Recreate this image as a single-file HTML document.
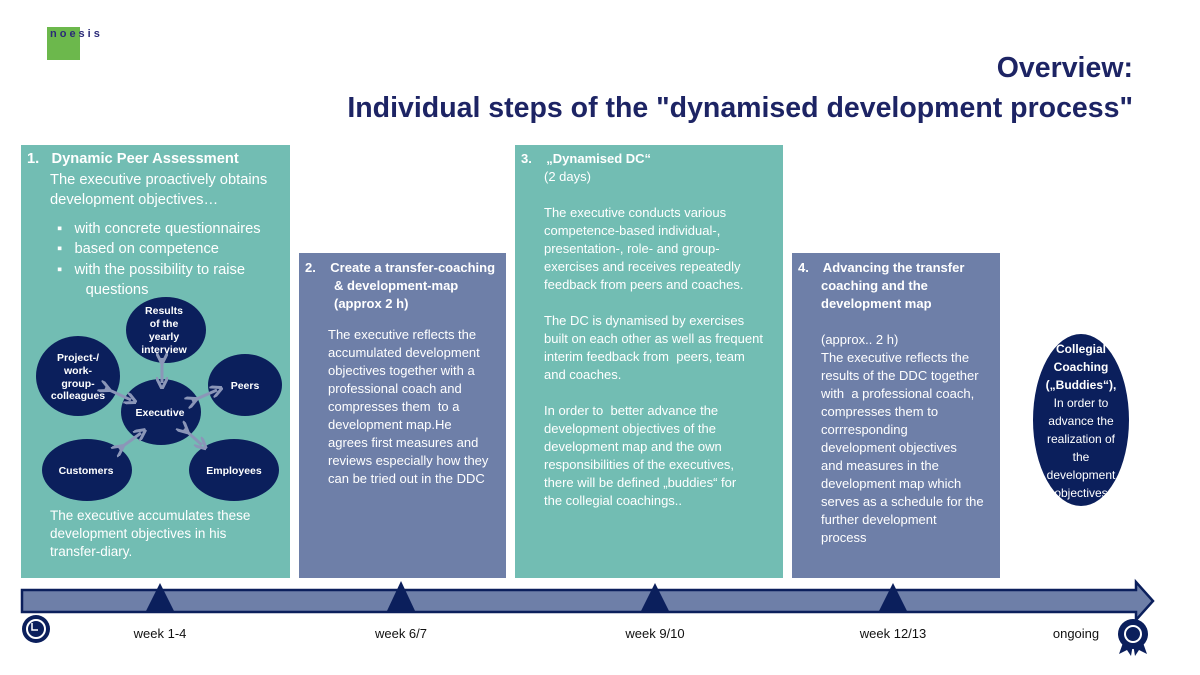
<!DOCTYPE html>
<html><head><meta charset="utf-8"><style>
*{margin:0;padding:0;box-sizing:border-box}
body{width:1200px;height:675px;background:#fff;position:relative;overflow:hidden;font-family:"Liberation Sans",sans-serif}
.a{position:absolute}
.box{position:absolute;color:#fff;font-size:13px;line-height:18px;white-space:nowrap}
.t{position:absolute;white-space:nowrap}
.b{font-weight:bold}
</style></head><body>
<div class="a" style="left:47px;top:27px;width:33px;height:33px;background:#6cb84c"></div>
<div class="t b" style="left:50px;top:28px;font-size:11px;letter-spacing:3px;color:#2a2a78">noesis</div>
<div class="t b" style="right:67px;top:48px;font-size:28.5px;color:#1d2464;text-align:right;line-height:40px">Overview:<br>Individual steps of the "dynamised development process"</div>

<div class="box" style="left:21px;top:145px;width:269px;height:433px;background:#72bdb3"></div>
<div class="box" style="left:299px;top:253px;width:207px;height:325px;background:#6e7fa8"></div>
<div class="box" style="left:515px;top:145px;width:268px;height:433px;background:#72bdb3"></div>
<div class="box" style="left:792px;top:253px;width:208px;height:325px;background:#6e7fa8"></div>

<div class="box" style="left:27px;top:149px;font-size:14.7px;line-height:20.5px">
<div class="b">1.&nbsp;&nbsp; Dynamic Peer Assessment</div>
<div style="padding-left:23px">The executive proactively obtains<br>development objectives…</div>
<div style="margin-top:8px;padding-left:30px">▪&nbsp;&nbsp; with concrete questionnaires<br>▪&nbsp;&nbsp; based on competence<br>▪&nbsp;&nbsp; with the possibility to raise<br>&nbsp;&nbsp;&nbsp;&nbsp;&nbsp;&nbsp; questions</div>
</div>
<div class="box" style="left:50px;top:507px;font-size:13.5px;line-height:18px">The executive accumulates these<br>development objectives in his<br>transfer-diary.</div>

<svg class="a" style="left:0;top:0" width="1200" height="675">
<defs><marker id="m" markerWidth="4" markerHeight="4" refX="2" refY="2" orient="auto"><path d="M0,0 L4,2 L0,4" fill="none" stroke="#8b96b8" stroke-width="1"/></marker></defs>
<g fill="#0b1f5c">
<ellipse cx="161" cy="412" rx="40" ry="33"/>
<ellipse cx="166" cy="330" rx="40" ry="33"/>
<ellipse cx="78" cy="376" rx="42" ry="40"/>
<ellipse cx="245" cy="385" rx="37" ry="31"/>
<ellipse cx="87" cy="470" rx="45" ry="31"/>
<ellipse cx="234" cy="470" rx="45" ry="31"/>
<ellipse cx="1081" cy="420" rx="48" ry="86"/>
</g>
<g stroke="#8b96b8" stroke-width="3" marker-start="url(#m)" marker-end="url(#m)">
<line x1="162" y1="358" x2="162" y2="383"/>
<line x1="105" y1="388" x2="131" y2="400"/>
<line x1="192" y1="401" x2="217" y2="390"/>
<line x1="119" y1="449" x2="141" y2="433"/>
<line x1="184" y1="429" x2="202" y2="445"/>
</g>
<g fill="#fff" font-family="Liberation Sans" font-weight="bold" font-size="10.5" text-anchor="middle">
<text x="160" y="416">Executive</text>
<text x="164" y="314">Results</text><text x="164" y="327">of the</text><text x="164" y="340">yearly</text><text x="164" y="353">interview</text>
<text x="78" y="361">Project-/</text><text x="78" y="374">work-</text><text x="78" y="387">group-</text><text x="78" y="399">colleagues</text>
<text x="245" y="389">Peers</text>
<text x="86" y="474">Customers</text>
<text x="234" y="474">Employees</text>
</g>
<g fill="#fff" font-family="Liberation Sans" font-weight="bold" font-size="12" text-anchor="middle">
<text x="1081" y="353">Collegial</text><text x="1081" y="371">Coaching</text><text x="1081" y="389">(„Buddies“),</text>
<text x="1081" y="407" font-weight="normal">In order to</text><text x="1081" y="425" font-weight="normal">advance the</text>
<text x="1081" y="443" font-weight="normal">realization of</text><text x="1081" y="461" font-weight="normal">the</text>
<text x="1081" y="479" font-weight="normal">development</text><text x="1081" y="497" font-weight="normal">objectives</text>
</g>
<path d="M22,590 L1136,590 L1136,582 L1153,601 L1136,620 L1136,612 L22,612 Z" fill="#6e7fa8" stroke="#0b1f5c" stroke-width="2.5"/>
<g fill="#0b1f5c">
<path d="M160,583 L175,613 L145,613 Z"/>
<path d="M401,581 L416,613 L386,613 Z"/>
<path d="M655,583 L670,613 L640,613 Z"/>
<path d="M893,583 L908,613 L878,613 Z"/>
<circle cx="36" cy="629" r="14"/>
<circle cx="1133" cy="634" r="15"/>
<path d="M1124,640 L1119,654 L1127,650 L1131,656 L1133,644 Z M1142,640 L1147,654 L1139,650 L1135,656 L1133,644 Z"/>
</g>
<circle cx="36" cy="629" r="9" fill="none" stroke="#fff" stroke-width="2"/>
<path d="M32,623 L32,630 L38,630" fill="none" stroke="#fff" stroke-width="1.5"/>
<circle cx="1133" cy="634" r="8" fill="none" stroke="#fff" stroke-width="2"/>
<g font-family="Liberation Sans" font-size="13" fill="#111" text-anchor="middle">
<text x="160" y="638">week 1-4</text><text x="401" y="638">week 6/7</text>
<text x="655" y="638">week 9/10</text><text x="893" y="638">week 12/13</text><text x="1076" y="638">ongoing</text>
</g>
</svg>

<div class="box" style="left:305px;top:259px">
<div class="b">2.&nbsp;&nbsp;&nbsp; Create a transfer-coaching</div>
<div class="b" style="padding-left:29px">&amp; development-map<br>(approx 2 h)</div>
<div style="padding-left:23px;margin-top:13px">The executive reflects the<br>accumulated development<br>objectives together with a<br>professional coach and<br>compresses them&nbsp; to a<br>development map.He<br>agrees first measures and<br>reviews especially how they<br>can be tried out in the DDC</div>
</div>

<div class="box" style="left:521px;top:150px">
<div class="b">3.&nbsp;&nbsp;&nbsp; „Dynamised DC“</div>
<div style="padding-left:23px">(2 days)</div>
<div style="padding-left:23px;margin-top:18px">The executive conducts various<br>competence-based individual-,<br>presentation-, role- and group-<br>exercises and receives repeatedly<br>feedback from peers and coaches.</div>
<div style="padding-left:23px;margin-top:18px">The DC is dynamised by exercises<br>built on each other as well as frequent<br>interim feedback from&nbsp; peers, team<br>and coaches.</div>
<div style="padding-left:23px;margin-top:18px">In order to&nbsp; better advance the<br>development objectives of the<br>development map and the own<br>responsibilities of the executives,<br>there will be defined „buddies“ for<br>the collegial coachings..</div>
</div>

<div class="box" style="left:798px;top:259px">
<div class="b">4.&nbsp;&nbsp;&nbsp; Advancing the transfer</div>
<div class="b" style="padding-left:23px">coaching and the<br>development map</div>
<div style="padding-left:23px;margin-top:18px">(approx.. 2 h)<br>The executive reflects the<br>results of the DDC together<br>with&nbsp; a professional coach,<br>compresses them to<br>corrresponding<br>development objectives<br>and measures in the<br>development map which<br>serves as a schedule for the<br>further development<br>process</div>
</div>
</body></html>
